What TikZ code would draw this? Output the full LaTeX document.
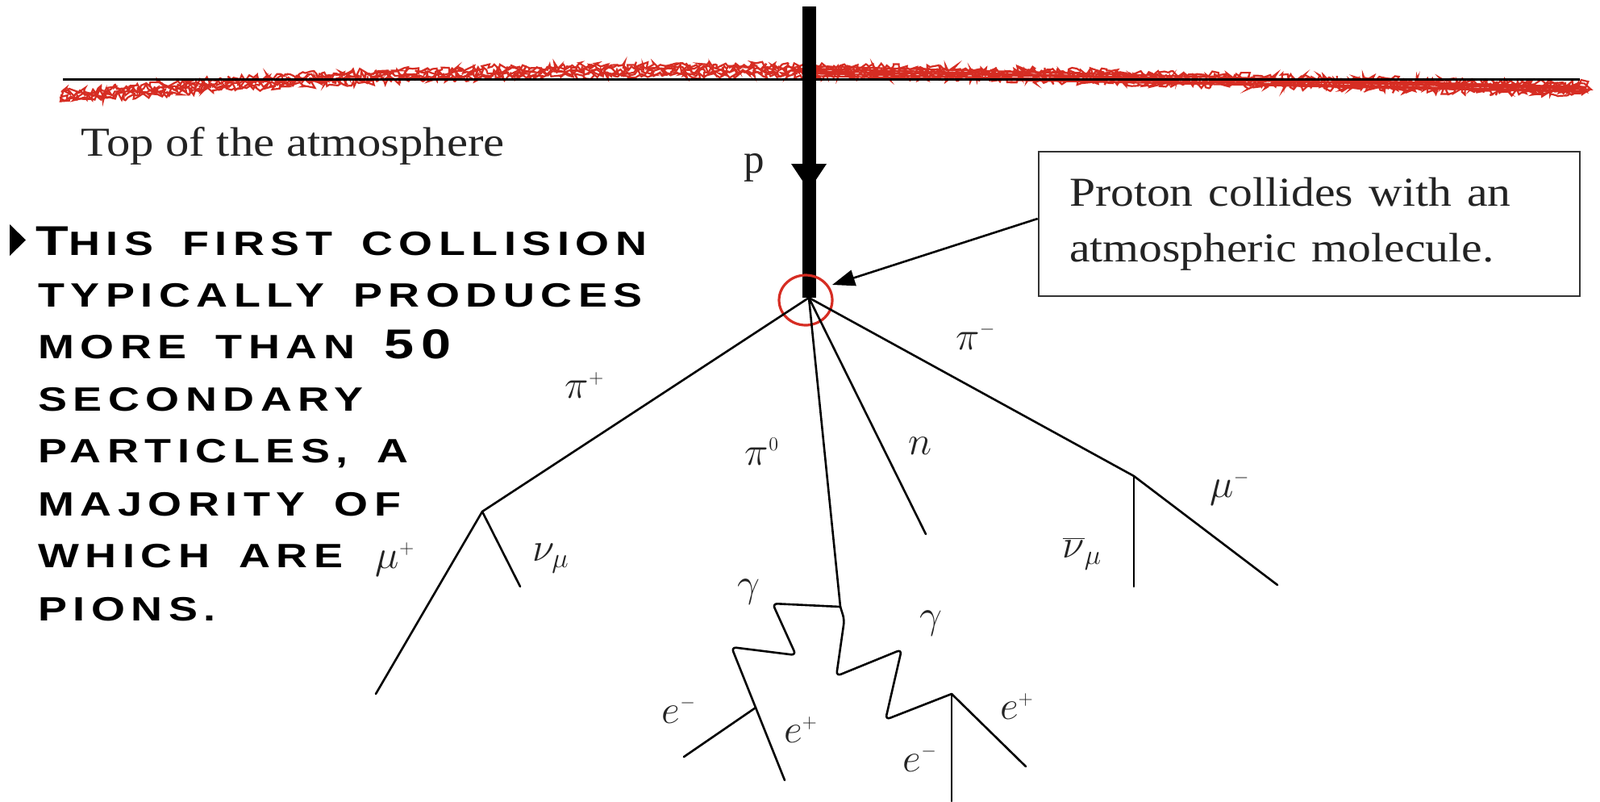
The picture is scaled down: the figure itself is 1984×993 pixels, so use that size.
\documentclass[tikz,border=0pt]{standalone}
\usepackage{fontspec}
\usetikzlibrary{arrows.meta,decorations.pathmorphing}
\newfontfamily\bankfont[LetterSpace=14,WordSpace=1.6]{Liberation Sans}
\newfontfamily\garfont{Liberation Serif}
\definecolor{scrib}{RGB}{214,45,35}
\definecolor{txtgray}{RGB}{35,35,35}
\newcommand{\bigc}[1]{{\fontsize{25.8}{30}\selectfont #1}}
\newcommand{\supx}[1]{^{\mbox{\fontsize{13}{13}\selectfont$#1$}}}
\newcommand{\subx}[1]{_{\mbox{\fontsize{17}{17}\selectfont$#1$}}}
\tikzset{
  bank/.style={anchor=base west, inner sep=0pt, font=\bankfont\bfseries\fontsize{20.9}{25}\selectfont},
  gar/.style={inner sep=0pt, text=txtgray, font=\garfont\fontsize{25.5}{34.5}\selectfont},
  lab/.style={inner sep=0pt, text=txtgray, font=\fontsize{30}{34}\selectfont},
  track/.style={line width=1.3pt, line cap=round, line join=round},
  photon/.style={track, rounded corners=3pt},
  scribble/.style={scrib, line width=1.1pt, decorate, decoration={random steps, segment length=1.6pt, amplitude=2.4pt}},
}
\begin{document}
\begin{tikzpicture}[x=0.5pt, y=-0.5pt]
\useasboundingbox (0,0) rectangle (1984,993);

% red scribble band (atmosphere)
\foreach \d in {-6,-3,0,3,6}{
  \draw[scribble] (76,120+\d) .. controls (400,92+\d) and (700,84+\d) .. (1000,88+\d)
        .. controls (1300,92+\d) and (1650,104+\d) .. (1968,110+\d);
}
% top of atmosphere line
\coordinate (hl) at (78,98);
\coordinate (hr) at (1959,98);
\draw[line width=1.5pt] (hl) -- (hr);

\node[gar, anchor=base west] (top) at (100,193) {\scalebox{1.15}[1]{Top of the atmosphere}};

% incoming proton
\coordinate (ptop) at (1003,8);
\coordinate (V) at (1003,369);
\draw[line width=8.5pt] (ptop) -- (V);
\fill (981,203) -- (1025,203) -- (1003,236) -- cycle;
\node[gar, anchor=base] (plab) at (935,214) {p};

% red collision circle
\draw[scrib, line width=1.6pt] (999,372) ellipse [x radius=33, y radius=31];

% callout box
\node[gar, draw=black!80, line width=1.3pt, anchor=center, align=left,
      text width=297.5pt, inner xsep=19pt, minimum height=89.5pt, text=txtgray]
  (box) at (1623.5,277.5)
  {\scalebox{1.13}[1]{Proton collides with an}\\\scalebox{1.13}[1]{atmospheric molecule.}};
\coordinate (tip) at (1032,353);
\draw[line width=1.3pt, -{Triangle[length=14pt,width=10pt]}] (box.west |- 0,271) -- (tip);

% bullet text
\fill (12,278) -- (12,317) -- (32,297.5) -- cycle;
\node[bank] (t1) at (44,316) {\scalebox{1.29}[1]{\bigc{T}HIS FIRST COLLISION}};
\node[bank] (t2) at (47,380) {\scalebox{1.29}[1]{TYPICALLY PRODUCES}};
\node[bank] (t3) at (47,444) {\scalebox{1.29}[1]{MORE THAN \bigc{50}}};
\node[bank] (t4) at (47,509) {\scalebox{1.29}[1]{SECONDARY}};
\node[bank] (t5) at (47,573) {\scalebox{1.29}[1]{PARTICLES, A}};
\node[bank] (t6) at (47,639) {\scalebox{1.29}[1]{MAJORITY OF}};
\node[bank] (t7) at (47,703) {\scalebox{1.29}[1]{WHICH ARE}};
\node[bank] (t8) at (47,769) {\scalebox{1.29}[1]{PIONS.}};

% vertices
\coordinate (Pp) at (598,634);
\coordinate (MuPe) at (466,860);
\coordinate (NuE) at (645,727);
\coordinate (B0) at (1042,752);
\coordinate (nE) at (1148,662);
\coordinate (Pm) at (1406,590);
\coordinate (MuMe) at (1584,725);
\coordinate (NuBe) at (1406,727);
\coordinate (LP) at (937,877);
\coordinate (LPem) at (848,938);
\coordinate (LPep) at (973,967);
\coordinate (RP) at (1180,860);
\coordinate (RPem) at (1180,993);
\coordinate (RPep) at (1272,950);

% pi+ branch
\draw[track] (V) -- (Pp) -- (MuPe);
\draw[track] (Pp) -- (NuE);
% pi0 and n
\draw[track] (V) -- (B0);
\draw[track] (V) -- (nE);
% pi- branch
\draw[track] (V) -- (Pm) -- (MuMe);
\draw[track] (Pm) -- (NuBe);
% photons
\draw[photon] (B0) -- (958,748) -- (987,812) -- (907,802) -- (LP);
\draw[photon] (B0) -- (1047,768) -- (1037,838) -- (1118,805) -- (1098,892) -- (RP);
% pairs
\draw[track] (LP) -- (LPem);
\draw[track] (LP) -- (LPep);
\draw[track] (RP) -- (RPem);
\draw[track] (RP) -- (RPep);

% labels
\node[lab] (lpip) at (725,478) {$\pi\supx{+}$};
\node[lab] (lpi0) at (945,560) {$\pi\supx{0}$};
\node[lab, font=\fontsize{25}{29}\selectfont] (ln) at (1141,553) {$n$};
\node[lab] (lpim) at (1210,417) {$\pi\supx{-}$};
\node[lab] (lmup) at (490,693) {$\mu\supx{+}$};
\node[lab] (lnu) at (683,692) {$\nu\subx{\mu}$};
\node[lab] (lmum) at (1525,605) {$\mu\supx{-}$};
\node[lab] (lnub) at (1342,686) {$\overline{\nu}\subx{\mu}$};
\node[lab] (lg1) at (928,734) {$\gamma$};
\node[lab] (lg2) at (1154,773) {$\gamma$};
\node[lab] (lem1) at (842,880) {$e\supx{-}$};
\node[lab] (lep1) at (993,905) {$e\supx{+}$};
\node[lab] (lem2) at (1141,940) {$e\supx{-}$};
\node[lab] (lep2) at (1261,876) {$e\supx{+}$};
\end{tikzpicture}
\end{document}
